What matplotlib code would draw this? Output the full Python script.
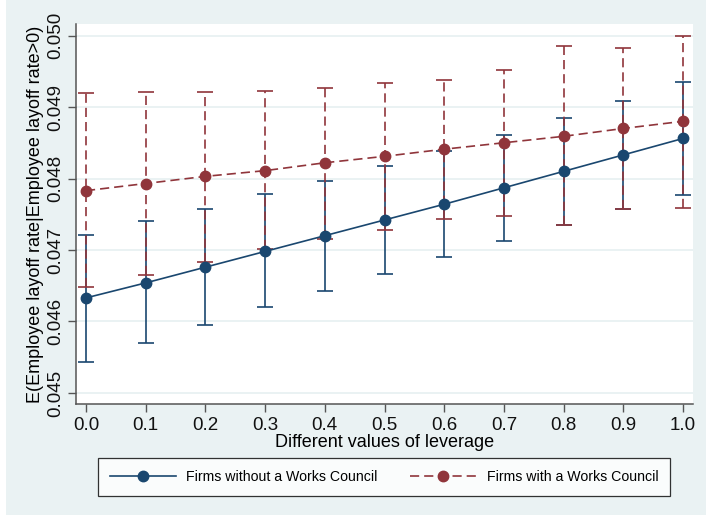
import matplotlib
matplotlib.use("Agg")
import matplotlib.pyplot as plt
from matplotlib.lines import Line2D
from matplotlib.patches import Rectangle

plt.rcParams["font.family"] = ["Liberation Sans", "DejaVu Sans"]

# Leverage grid and predicted layoff rates with 95% confidence bounds
leverage = [0.0, 0.1, 0.2, 0.3, 0.4, 0.5, 0.6, 0.7, 0.8, 0.9, 1.0]

no_wc_mean = [0.04633, 0.04654, 0.04676, 0.04698, 0.04720, 0.04742,
              0.04764, 0.04787, 0.04810, 0.04833, 0.04856]
no_wc_low = [0.04544, 0.04570, 0.04595, 0.04620, 0.04643, 0.04666,
             0.04690, 0.04713, 0.04735, 0.04757, 0.04777]
no_wc_high = [0.04721, 0.04740, 0.04758, 0.04778, 0.04797, 0.04817,
              0.04838, 0.04861, 0.04885, 0.04909, 0.04935]

wc_mean = [0.04783, 0.04793, 0.04803, 0.04811, 0.04822, 0.04831,
           0.04841, 0.04850, 0.04859, 0.04870, 0.04880]
wc_low = [0.04648, 0.04665, 0.04683, 0.04702, 0.04716, 0.04728,
          0.04743, 0.04748, 0.04735, 0.04757, 0.04759]
wc_high = [0.04919, 0.04921, 0.04921, 0.04923, 0.04927, 0.04934,
           0.04938, 0.04952, 0.04986, 0.04982, 0.05000]

x_ticks = [0.0, 0.1, 0.2, 0.3, 0.4, 0.5, 0.6, 0.7, 0.8, 0.9, 1.0]
y_ticks = [0.045, 0.046, 0.047, 0.048, 0.049, 0.050]

label_no_wc = "Firms without a Works Council"
label_wc = "Firms with a Works Council"

BLUE = "#1a476f"
RED = "#90353b"
BG = "#eaf2f3"

W, H = 706, 515
fig = plt.figure(figsize=(W / 100, H / 100), dpi=100, facecolor=BG)
# thin white margin on the left edge of the canvas
fig.patches.append(Rectangle((0, 0), 6 / W, 1, transform=fig.transFigure,
                             facecolor="white", edgecolor="none", zorder=-1))

ax = fig.add_axes([76 / W, 1 - 404 / H, (693 - 76) / W, (404 - 24) / H])
ax.set_facecolor("white")

dash = (0, (5.5, 3.0))

# Confidence intervals
yerr_b = [[m - l for m, l in zip(no_wc_mean, no_wc_low)],
          [h - m for m, h in zip(no_wc_mean, no_wc_high)]]
yerr_r = [[m - l for m, l in zip(wc_mean, wc_low)],
          [h - m for m, h in zip(wc_mean, wc_high)]]

eb_b = ax.errorbar(leverage, no_wc_mean, yerr=yerr_b, fmt="none", ecolor=BLUE,
                   elinewidth=1.2, capsize=5.5, capthick=1.2, zorder=2)
eb_r = ax.errorbar(leverage, wc_mean, yerr=yerr_r, fmt="none", ecolor=RED,
                   elinewidth=1.2, capsize=5.5, capthick=1.2, zorder=3)
for lc in eb_r[2]:
    lc.set_linestyle(dash)

# Predicted margins
ax.plot(leverage, no_wc_mean, color=BLUE, lw=1.2, marker="o", ms=7.5,
        zorder=4, label=label_no_wc)
ax.plot(leverage, wc_mean, color=RED, lw=1.2, ls=dash, marker="o", ms=7.5,
        zorder=5, label=label_wc)

ax.set_xlim(-0.01675, 1.01675)
ax.set_ylim(0.044846, 0.050161)
ax.set_xticks(x_ticks)
ax.set_xticklabels([f"{v:.1f}" for v in x_ticks])
ax.set_yticks(y_ticks)
ax.set_yticklabels([f"{v:.3f}" for v in y_ticks])

ax.yaxis.grid(True, color=BG, lw=1.4)
ax.set_axisbelow(True)

for s in ("top", "right"):
    ax.spines[s].set_visible(False)
for s in ("left", "bottom"):
    ax.spines[s].set_color("#555555")
    ax.spines[s].set_linewidth(1.1)

ax.tick_params(axis="both", which="major", length=5.8, width=1.0,
               color="#555555", labelsize=13.5, labelcolor="#111111", pad=3.6)
ax.tick_params(axis="y", labelrotation=90, pad=3.0)
for lbl in ax.get_yticklabels():
    lbl.set_verticalalignment("center")

ax.set_xlabel("Different values of leverage", fontsize=13, labelpad=0)
ax.set_ylabel("E(Employee layoff rate|Employee layoff rate>0)", fontsize=13,
              labelpad=2)

handles = [
    Line2D([], [], color=BLUE, lw=1.2, marker="o", ms=7.5),
    Line2D([], [], color=RED, lw=1.2, ls=dash, marker="o", ms=7.5),
]
leg = fig.legend(handles, [label_no_wc, label_wc], ncol=2,
                 loc="center", bbox_to_anchor=(384 / W, 1 - 477 / H),
                 fontsize=10.2, frameon=True, fancybox=False,
                 handlelength=4.65, handletextpad=0.75, columnspacing=2.3,
                 borderpad=0.85, borderaxespad=0, markerscale=1.0)
leg.get_frame().set_edgecolor("black")
leg.get_frame().set_linewidth(0.9)
leg.get_frame().set_facecolor("white")

fig.savefig("out.png", dpi=100, facecolor=BG)
